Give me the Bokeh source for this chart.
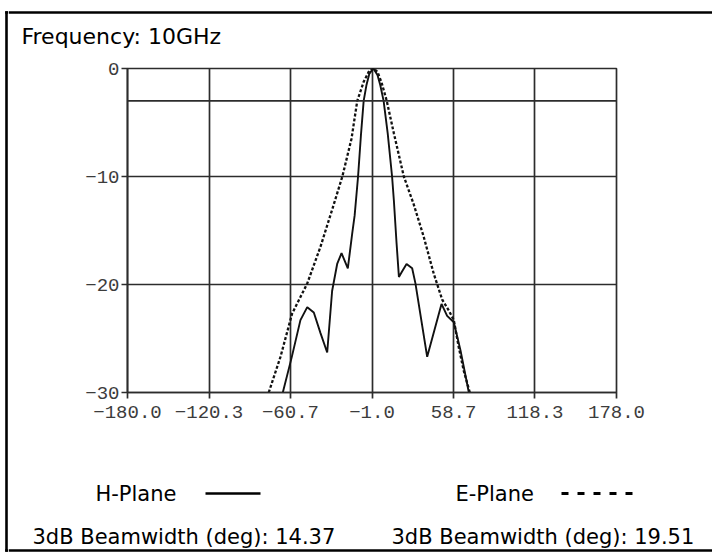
from bokeh.plotting import figure
from bokeh.layouts import column, row
from bokeh.models import Range1d, FixedTicker, Span
from bokeh.core.properties import value
from bokeh.embed import file_html
from bokeh.resources import INLINE

# ---------------- data ----------------
x_ticks = [-180.0, -120.3, -60.7, -1.0, 58.7, 118.3, 178.0]
x_tick_labels = ["\u2212180.0", "\u2212120.3", "\u221260.7", "\u22121.0", "58.7", "118.3", "178.0"]
y_ticks = [0, -10, -20, -30]
y_tick_labels = ["0", "\u221210", "\u221220", "\u221230"]
ref_level = -3

h_angle = [-66.3, -59.7, -53.4, -48.4, -43.6, -38.7, -33.8, -30.2, -26.5, -23.3,
           -18.7, -15.5, -13.7, -11.2, -9.0, -7.1, -5.0, -3.0, 0.0, 3.0, 5.0,
           7.5, 10.5, 13.7, 15.0, 17.0, 18.7, 21.0, 24.3, 28.4, 30.8, 39.4,
           49.9, 54.0, 58.9, 63.8, 69.9]
h_gain = [-30.0, -26.7, -23.3, -22.1, -22.6, -24.5, -26.3, -20.6, -18.1, -17.1,
          -18.5, -15.3, -13.6, -10.0, -6.0, -3.0, -1.5, -0.5, 0.0, -0.6, -1.5,
          -3.0, -6.0, -10.0, -12.2, -16.2, -19.3, -18.8, -18.1, -18.5, -19.9, -26.7,
          -21.8, -22.9, -23.5, -26.1, -30.0]

e_angle = [-76.6, -68.0, -59.5, -48.4, -38.7, -30.0, -22.7, -16.0, -11.8, -7.0,
           -3.0, 0.0, 3.0, 6.0, 9.8, 15.0, 22.3, 29.6, 36.9, 44.2, 50.4, 55.2,
           58.9, 62.5, 66.2, 70.6]
e_gain = [-30.0, -26.7, -22.7, -19.9, -16.5, -13.0, -10.0, -6.5, -3.0, -1.2,
          -0.2, 0.0, -0.3, -1.3, -3.0, -6.0, -10.0, -12.6, -15.6, -19.0, -21.4, -22.4,
          -23.3, -25.8, -28.0, -30.0]

title_text = "Frequency: 10GHz"
series_names = ["H-Plane", "E-Plane"]
beamwidth_texts = ["3dB Beamwidth (deg): 14.37", "3dB Beamwidth (deg): 19.51"]

# ---------------- layout constants (page pixels) ----------------
PAGE_W, PAGE_H = 712, 556
LEFT_W = 8
RIGHT_W = PAGE_W - LEFT_W
TOP_H = 50            # strip above the chart
MID_H = 390           # chart figure height
BOT_H = PAGE_H - TOP_H - MID_H
FONT = "DejaVu Sans"
FS = "21px"
FS_TITLE = "22px"
BASE_SHIFT = 6        # alphabetic-baseline correction of the text glyph
BORDER_X = 6
BORDER_TOP = 12
BORDER_BOT = 550
BORDER_W = 2.6
INK = "#111111"
GRID = "#2c2c2c"


def strip(w, h, x0, y0):
    """Blank figure whose frame is its whole canvas, in page-pixel coords."""
    f = figure(title=None, frame_width=w, frame_height=h, min_border=0,
               x_range=Range1d(x0, x0 + w), y_range=Range1d(y0 + h, y0),
               x_axis_location=None, y_axis_location=None,
               output_backend="svg", toolbar_location=None)
    f.grid.visible = False
    f.outline_line_color = None
    f.background_fill_color = "white"
    f.border_fill_color = "white"
    return f


# left strip: full-height left border and corners
left = strip(LEFT_W, PAGE_H, 0, 0)
left.segment(x0=[BORDER_X, BORDER_X - 1.3, BORDER_X - 1.3],
             y0=[BORDER_TOP - 1.3, BORDER_TOP, BORDER_BOT],
             x1=[BORDER_X, LEFT_W, LEFT_W],
             y1=[BORDER_BOT + 1.3, BORDER_TOP, BORDER_BOT],
             line_color="black", line_width=BORDER_W)

# top strip: title text + top border
top = strip(RIGHT_W, TOP_H, LEFT_W, 0)
top.segment(x0=[LEFT_W], y0=[BORDER_TOP], x1=[PAGE_W], y1=[BORDER_TOP],
            line_color="black", line_width=BORDER_W)
top.text(x=[21], y=[42 - BASE_SHIFT], text=[title_text], text_font=value(FONT),
         text_font_size=value(FS_TITLE), text_baseline="alphabetic", text_align="left",
         text_color="black")

# main chart
FL = 127 - LEFT_W
FW, FH = 489, 324
FT = 68 - TOP_H
p = figure(title=None, frame_width=FW, frame_height=FH,
           min_border_left=FL, min_border_right=RIGHT_W - FL - FW,
           min_border_top=FT, min_border_bottom=MID_H - FT - FH,
           x_range=Range1d(x_ticks[0], x_ticks[-1]), y_range=Range1d(y_ticks[-1], y_ticks[0]),
           output_backend="svg", toolbar_location=None,
           background_fill_color="white", border_fill_color="white")
p.xaxis.ticker = FixedTicker(ticks=x_ticks)
p.yaxis.ticker = FixedTicker(ticks=y_ticks)
p.xgrid.ticker = FixedTicker(ticks=x_ticks)
p.ygrid.ticker = FixedTicker(ticks=y_ticks)
p.xaxis.major_label_overrides = dict(zip(x_ticks, x_tick_labels))
p.yaxis.major_label_overrides = dict(zip(y_ticks, y_tick_labels))
for g in (p.xgrid, p.ygrid):
    g.grid_line_color = GRID
    g.grid_line_width = 1.7
for ax in (p.xaxis, p.yaxis):
    ax.axis_line_color = GRID
    ax.axis_line_width = 1.7
    ax.major_tick_line_color = GRID
    ax.major_tick_line_width = 1.7
    ax.major_tick_out = 6
    ax.major_tick_in = 0
    ax.minor_tick_line_color = None
    ax.major_label_text_font = "Liberation Mono"
    ax.major_label_text_font_size = "19px"
    ax.major_label_text_color = "#3c3c3c"
p.xaxis.major_label_standoff = 7
p.yaxis.major_label_standoff = 2
p.outline_line_color = GRID
p.outline_line_width = 1.7

p.add_layout(Span(location=ref_level, dimension="width", line_color=GRID, line_width=1.7))

p.line(h_angle, h_gain, line_color=INK, line_width=1.9)
p.line(e_angle, e_gain, line_color=INK, line_width=2.3, line_dash="3 2")

# bottom strip: legend, beamwidths, bottom border
bot = strip(RIGHT_W, BOT_H, LEFT_W, TOP_H + MID_H)
bot.segment(x0=[LEFT_W], y0=[BORDER_BOT], x1=[PAGE_W], y1=[BORDER_BOT],
            line_color="black", line_width=BORDER_W)
bot.text(x=[95, 455], y=[499 - BASE_SHIFT] * 2, text=series_names, text_font=value(FONT),
         text_font_size=value(FS), text_baseline="alphabetic", text_align="left",
         text_color="black")
bot.text(x=[32, 391], y=[542 - BASE_SHIFT] * 2, text=beamwidth_texts, text_font=value(FONT),
         text_font_size=value(FS), text_baseline="alphabetic", text_align="left",
         text_color="black")
bot.segment(x0=[205], y0=[493], x1=[260], y1=[493], line_color="black", line_width=2.5)
bot.segment(x0=[561], y0=[493], x1=[632], y1=[493], line_color="black", line_width=3,
            line_dash="7 9")

# nesting the chart in its own row keeps its frame from being aligned with the strips
layout = row(left, column(top, row(p), bot))
open("out.html", "w").write(file_html(layout, INLINE))
